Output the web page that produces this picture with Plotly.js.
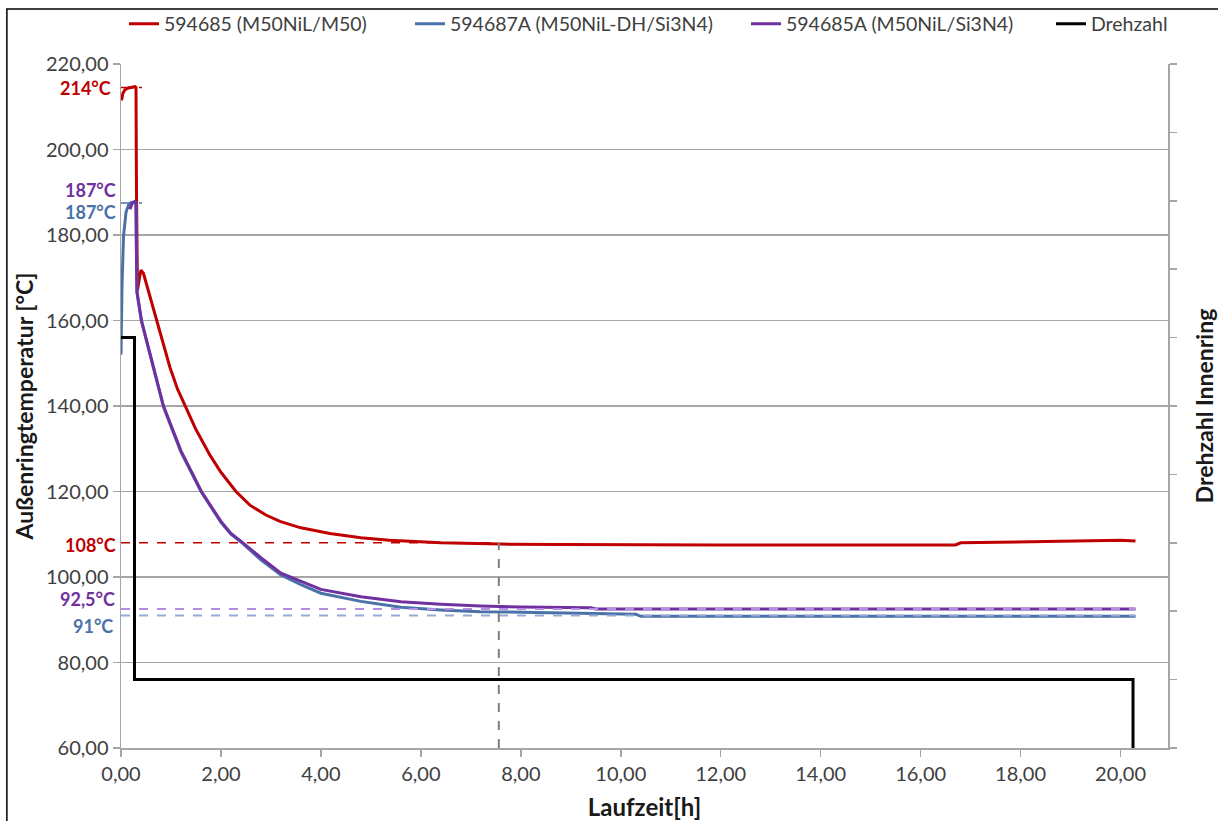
<!DOCTYPE html>
<html>
<head>
<meta charset="utf-8">
<script src="https://cdn.plot.ly/plotly-3.0.1.min.js"></script>
<style>
  html, body { margin: 0; padding: 0; background: #ffffff; }
  #chart { width: 1218px; height: 821px; }
</style>
</head>
<body>
<div id="chart"></div>
<script>
// ---------------- data ----------------
const seriesNames = [
  "594685 (M50NiL/M50)",
  "594687A (M50NiL-DH/Si3N4)",
  "594685A (M50NiL/Si3N4)",
  "Drehzahl"
];

// 594685 (M50NiL/M50) – Außenringtemperatur [°C]
const timeRed = [0.01, 0.04, 0.08, 0.15, 0.28, 0.30, 0.31, 0.33, 0.37, 0.40, 0.45, 0.58, 0.71, 0.85, 0.98, 1.13, 1.28, 1.50, 1.78, 2.00, 2.30, 2.58, 2.90, 3.18, 3.60, 4.18, 4.80, 5.37, 6.40, 7.60, 8.80, 10.0, 12.0, 14.0, 16.7, 16.8, 18.0, 19.0, 20.0, 20.3];
const tempRed = [211.5, 213.2, 214.0, 214.4, 214.7, 214.5, 190.0, 167.0, 170.0, 171.8, 171.0, 165.5, 160.0, 154.0, 149.0, 144.0, 140.0, 134.5, 128.5, 124.5, 120.0, 116.8, 114.5, 113.0, 111.5, 110.2, 109.2, 108.6, 108.0, 107.7, 107.6, 107.5, 107.5, 107.5, 107.5, 108.0, 108.2, 108.4, 108.6, 108.4];

// 594687A (M50NiL-DH/Si3N4)
const timeBlue = [0.00, 0.02, 0.05, 0.10, 0.15, 0.20, 0.28, 0.30, 0.31, 0.32, 0.41, 0.60, 0.85, 1.20, 1.61, 2.00, 2.20, 2.44, 2.80, 3.20, 3.60, 4.00, 4.80, 5.60, 6.40, 7.19, 8.00, 8.79, 10.3, 10.4, 12.0, 14.0, 16.0, 18.0, 20.3];
const tempBlue = [152.0, 168.0, 179.6, 185.3, 187.0, 187.6, 187.8, 187.5, 176.0, 166.5, 159.8, 151.2, 139.8, 129.2, 119.8, 112.8, 110.0, 107.8, 104.0, 100.5, 98.2, 96.2, 94.3, 92.9, 92.3, 91.9, 91.7, 91.5, 91.3, 90.8, 90.8, 90.8, 90.8, 90.8, 90.8];

// 594685A (M50NiL/Si3N4)
const timePurple = [0.18, 0.22, 0.28, 0.30, 0.31, 0.32, 0.41, 0.60, 0.85, 1.20, 1.61, 2.00, 2.20, 2.44, 2.80, 3.20, 3.60, 4.00, 4.80, 5.60, 6.40, 7.19, 8.00, 8.79, 9.40, 9.50, 12.0, 14.0, 16.0, 18.0, 20.3];
const tempPurple = [186.0, 187.3, 187.8, 187.5, 175.0, 166.7, 160.0, 151.5, 140.0, 129.5, 120.0, 113.0, 110.2, 108.0, 104.5, 100.9, 99.0, 97.1, 95.4, 94.2, 93.6, 93.2, 93.0, 92.9, 92.8, 92.5, 92.5, 92.5, 92.5, 92.5, 92.5];

// Drehzahl Innenring (secondary axis, unlabelled scale)
const timeDrehzahl = [0.00, 0.27, 0.27, 20.25, 20.25];
const drehzahl = [6, 6, 1, 1, 0];

// reference markings
const peakRed = 214.5, peakBlue = 187.5;
const steadyRed = 108, steadyPurple = 92.5, steadyBlue = 91;
const steadyTime = 7.56, endTime = 20.3, peakMarkEnd = 0.42;
const labelTexts = ["214°C", "187°C", "187°C", "108°C", "92,5°C", "91°C"];

const xTickVals = [0, 2, 4, 6, 8, 10, 12, 14, 16, 18, 20];
const yTickVals = [60, 80, 100, 120, 140, 160, 180, 200, 220];

// ---------------- styles ----------------
const RED = "#c00000", BLUE = "#4a72a8", PURPLE = "#7030a0", BLACK = "#000000";
const GRID = "#a6a6a6", TXT = "#404040";
const FONT = "Lato, 'Open Sans', sans-serif";

const traces = [
  {x: timeDrehzahl, y: drehzahl, name: seriesNames[3], yaxis: "y2", mode: "lines",
   line: {color: BLACK, width: 3}, legend: "legend4"},
  {x: timeRed, y: tempRed, name: seriesNames[0], mode: "lines",
   line: {color: RED, width: 3}, legend: "legend"},
  {x: timeBlue, y: tempBlue, name: seriesNames[1], mode: "lines",
   line: {color: BLUE, width: 3}, legend: "legend2"},
  {x: timePurple, y: tempPurple, name: seriesNames[2], mode: "lines",
   line: {color: PURPLE, width: 3}, legend: "legend3"}
];

function hline(y, x0, x1, color, width, dash) {
  return {type: "line", xref: "x", yref: "y", x0: x0, x1: x1, y0: y, y1: y,
          line: {color: color, width: width, dash: dash}, layer: "above"};
}

const shapes = [
  hline(peakRed, 0, peakMarkEnd, RED, 1.5, "dash"),
  hline(peakBlue, 0, peakMarkEnd, BLUE, 1.5, "dash"),
  hline(steadyRed, 0, steadyTime, RED, 1.5, "dash"),
  hline(steadyPurple, 0, endTime, "#b48ee0", 2, "dash"),
  hline(steadyBlue, 0, endTime, "#94acd4", 2, "dash"),
  {type: "line", xref: "x", yref: "y", x0: steadyTime, x1: steadyTime, y0: 60, y1: steadyRed,
   line: {color: "#7f7f7f", width: 2, dash: "dash"}, layer: "above"},
  // chart frame
  {type: "rect", xref: "paper", yref: "paper", x0: -0.109, x1: 1.08, y0: -0.2, y1: 1.0805,
   line: {color: "#000000", width: 1.5}, fillcolor: "rgba(0,0,0,0)", layer: "below"}
];

function lab(text, y, color, yshift, xshift) {
  return {text: "<b>" + text + "</b>", xref: "paper", yref: "y", x: 0, y: y, xanchor: "right", yanchor: "middle",
          xshift: xshift, yshift: yshift, showarrow: false,
          font: {family: FONT, size: 18, color: color}};
}
const annotations = [
  lab(labelTexts[0], peakRed, RED, 0, -8),
  lab(labelTexts[1], peakBlue, PURPLE, 13, -3),
  lab(labelTexts[2], peakBlue, BLUE, -9, -3),
  lab(labelTexts[3], steadyRed, RED, -2, -3),
  lab(labelTexts[4], steadyPurple, PURPLE, 10, -4),
  lab(labelTexts[5], steadyBlue, BLUE, -11, -6)
];

function leg(xpx) {
  return {orientation: "h", x: (xpx - 121) / 1047, xanchor: "left", y: 1.0585, yanchor: "middle",
          bgcolor: "rgba(0,0,0,0)", font: {family: FONT, size: 19.5, color: TXT},
          itemwidth: 30, borderwidth: 0};
}

const layout = {
  width: 1218, height: 821,
  margin: {l: 121, r: 50, t: 64, b: 73, autoexpand: false},
  paper_bgcolor: "#ffffff", plot_bgcolor: "#ffffff",
  separators: ",.",
  font: {family: FONT, color: TXT},
  showlegend: true,
  legend: leg(124), legend2: leg(410), legend3: leg(746), legend4: leg(1051),
  xaxis: {
    range: [0, 20.95], tickvals: xTickVals, tickformat: ".2f",
    ticks: "outside", ticklen: 7, tickcolor: GRID, tickwidth: 1.5,
    showline: true, linecolor: GRID, linewidth: 1.5, showgrid: false, zeroline: false,
    tickfont: {family: FONT, size: 20, color: TXT}, automargin: false,
    title: {text: "<b>Laufzeit[h]</b>", font: {family: FONT, size: 24, color: "#1a1a1a"}, standoff: 22}
  },
  yaxis: {
    range: [60, 220], tickvals: yTickVals, tickformat: ".2f", ticksuffix: "\u00a0\u00a0\u00a0\u00a0",
    ticks: "outside", ticklen: 7, tickcolor: GRID, tickwidth: 1.5,
    showline: true, linecolor: GRID, linewidth: 1.5, automargin: false,
    showgrid: true, gridcolor: GRID, gridwidth: 1.5, zeroline: false,
    tickfont: {family: FONT, size: 20, color: TXT},
    title: {text: "<b>Außenringtemperatur [°C]</b>", font: {family: FONT, size: 23, color: "#1a1a1a"}, standoff: 6}
  },
  yaxis2: {
    overlaying: "y", side: "right", range: [0, 10], dtick: 1, automargin: false,
    showticklabels: false, ticks: "outside", ticklen: 7, tickcolor: GRID, tickwidth: 1.5,
    showline: true, linecolor: GRID, linewidth: 1.5, showgrid: false, zeroline: false,
    title: {text: "<b>Drehzahl Innenring</b>", font: {family: FONT, size: 23, color: "#1a1a1a"}, standoff: 22}
  },
  shapes: shapes,
  annotations: annotations
};

Plotly.newPlot("chart", traces, layout, {displayModeBar: false, staticPlot: true});
</script>
</body>
</html>
